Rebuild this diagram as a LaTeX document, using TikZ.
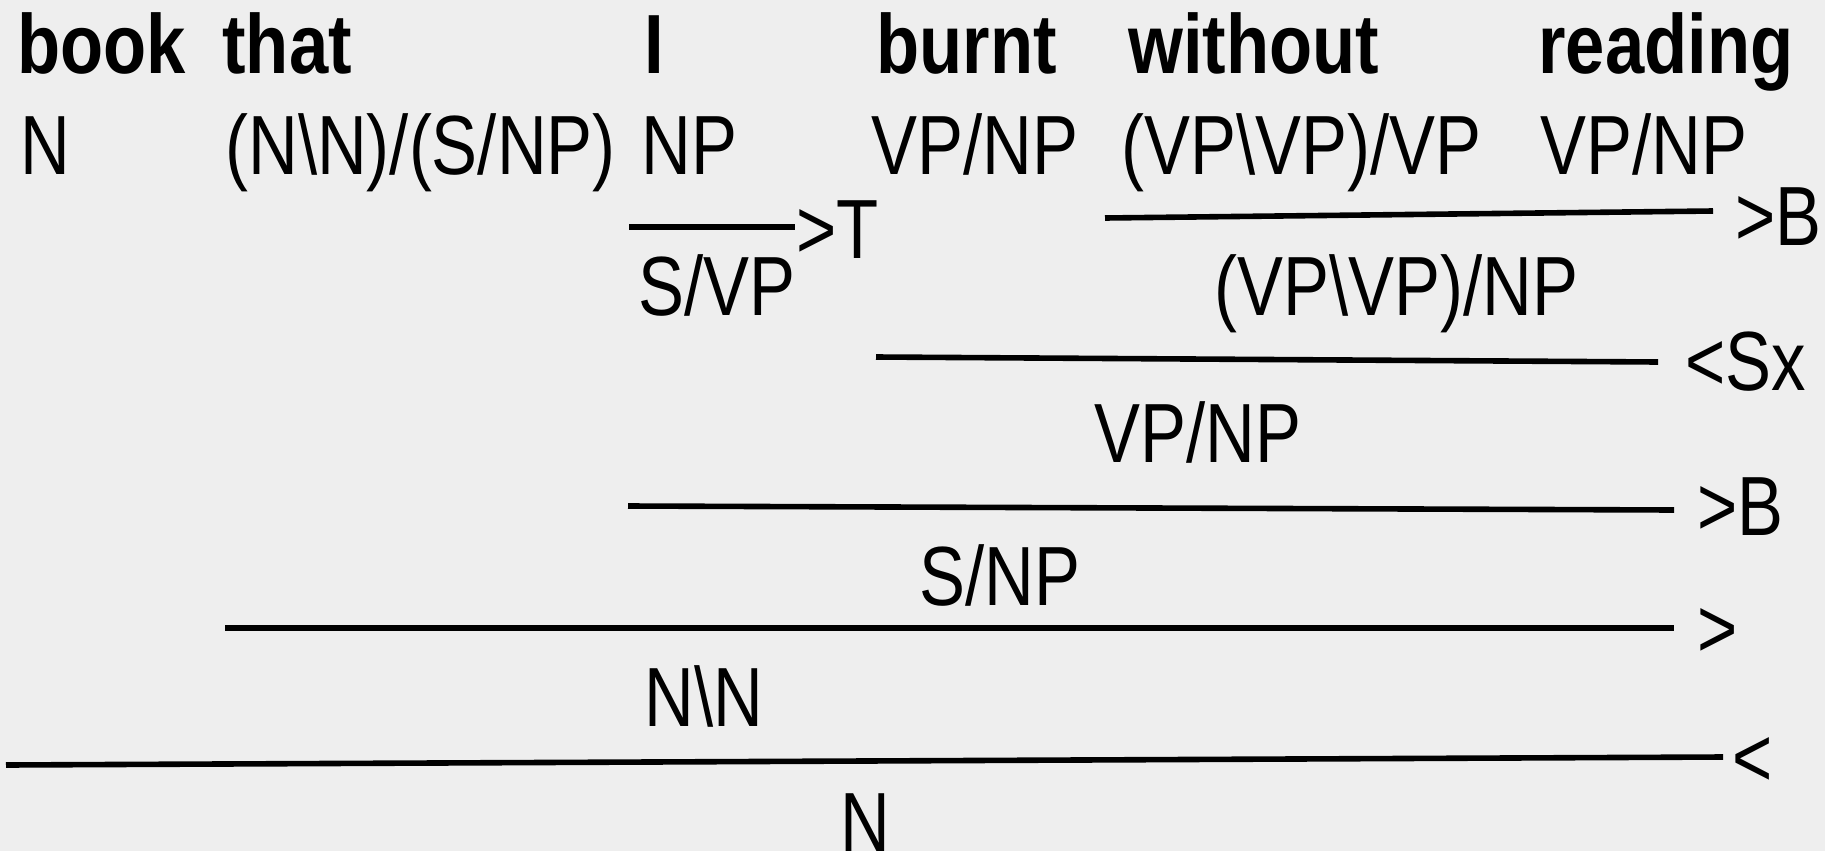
\documentclass[tikz,border=0pt]{standalone}
\usepackage{fontspec}
\setmainfont[FakeStretch=0.82,BoldFeatures={FakeStretch=0.84}]{Liberation Sans}
\newcommand\catf{\fontsize{42}{50}\selectfont}
\newcommand\wordf{\fontsize{42}{50}\selectfont\bfseries}
\definecolor{bgc}{HTML}{EEEEEE}
\begin{document}
\begin{tikzpicture}[x=0.5pt,y=-0.5pt,
  cat/.style={anchor=base west,inner sep=0pt,font=\catf},
  wrd/.style={anchor=base west,inner sep=0pt,font=\wordf},
  bar/.style={line width=2.8pt,line cap=butt}]
\fill[bgc] (0,0) rectangle (1825,851);
\useasboundingbox (0,0) rectangle (1825,851);
% words
\node[wrd] (wbook) at (17,73) {book};
\node[wrd] (wthat) at (222,73) {that};
\node[wrd] (wI) at (644,73) {I};
\node[wrd] (wburnt) at (876,73) {burnt};
\node[wrd] (wwithout) at (1128,73) {without};
\node[wrd] (wreading) at (1538,73) {reading};
% lexical categories
\node[cat] (cbook) at (20,174) {N};
\node[cat] (cthat) at (225,174) {(N\textbackslash N)/(S/NP)};
\node[cat] (cI) at (641,174) {NP};
\node[cat] (cburnt) at (871,174) {VP/NP};
\node[cat] (cwithout) at (1121,174) {(VP\textbackslash VP)/VP};
\node[cat] (creading) at (1540,174) {VP/NP};
% type raising
\coordinate (t1) at (629,227);
\coordinate (t2) at (795,227);
\draw[bar] (t1) -- (t2);
\node[cat] (rT) at (796,258) {>T};
\node[cat] (sVP) at (638,315) {S/VP};
% >B composition
\coordinate (b1) at (1105,218);
\coordinate (b2) at (1713,211);
\draw[bar] (b1) -- (b2);
\node[cat] (rB1) at (1735,245) {>B};
\node[cat] (vpvpnp) at (1214,315) {(VP\textbackslash VP)/NP};
% <Sx
\coordinate (s1) at (876,357);
\coordinate (s2) at (1658,362);
\draw[bar] (s1) -- (s2);
\node[cat] (rSx) at (1685,390) {<Sx};
\node[cat] (vpnp) at (1094,462) {VP/NP};
% >B
\coordinate (c1) at (628,506);
\coordinate (c2) at (1674,510);
\draw[bar] (c1) -- (c2);
\node[cat] (rB2) at (1697,535) {>B};
\node[cat] (snp) at (919,605) {S/NP};
% >
\coordinate (d1) at (225,628);
\coordinate (d2) at (1674,628);
\draw[bar] (d1) -- (d2);
\node[cat] (rF) at (1697,657) {>};
\node[cat] (nn) at (644,726) {N\textbackslash N};
% <
\coordinate (e1) at (6,765);
\coordinate (e2) at (1723,757);
\draw[bar] (e1) -- (e2);
\node[cat] (rBk) at (1732,786) {<};
\node[cat] (nfin) at (840,851) {N};
\end{tikzpicture}
\end{document}
